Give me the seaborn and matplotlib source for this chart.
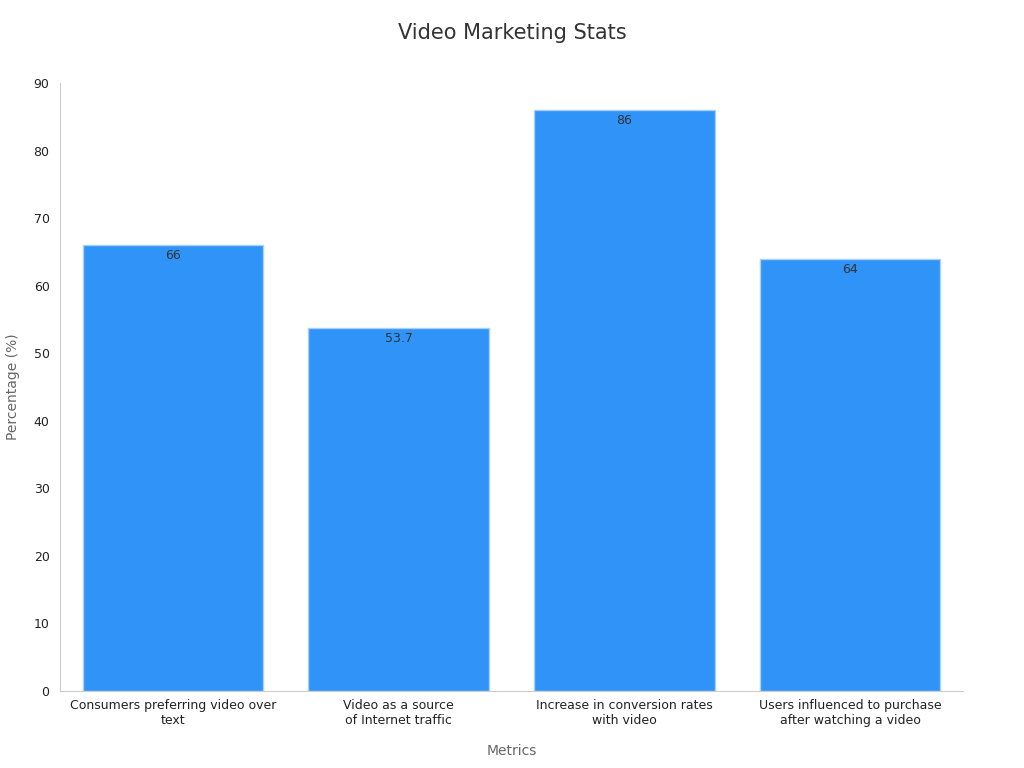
import matplotlib
matplotlib.use("Agg")
import matplotlib.pyplot as plt
import seaborn as sns
import pandas as pd

categories = ["Consumers preferring video over\ntext", "Video as a source\nof Internet traffic",
              "Increase in conversion rates\nwith video", "Users influenced to purchase\nafter watching a video"]
values = [66, 53.7, 86, 64]
labels = ["66", "53.7", "86", "64"]

sns.set_style("white")
plt.rcParams['font.family'] = ['DejaVu Sans']
fig = plt.figure(figsize=(10.24, 7.68), dpi=100)
ax = fig.add_axes([0.0586, 0.1003, 0.8818, 0.7917])
df = pd.DataFrame({"Metrics": categories, "Percentage": values})
sns.barplot(data=df, x="Metrics", y="Percentage", color="#2f93f7", saturation=1,
            width=0.8, edgecolor="#a8cff5", linewidth=1, ax=ax)
ax.set_xlim(-0.5, 3.5)
ax.set_ylim(0, 90)
ax.set_yticks(range(0, 91, 10))
for p, t in zip(ax.patches, labels):
    ax.text(p.get_x() + p.get_width() / 2, p.get_height() - 0.6, t, ha="center", va="top",
            fontsize=9, color="#333333")
for s in ["top", "right"]:
    ax.spines[s].set_visible(False)
for s in ["left", "bottom"]:
    ax.spines[s].set_color("#cccccc")
ax.tick_params(axis="both", labelsize=9, colors="#222222", length=4)
ax.tick_params(axis="x", length=0, pad=6)
ax.tick_params(axis="y", color="#888888")
ax.set_xlabel("Metrics", fontsize=10, color="#666666", labelpad=12)
ax.set_ylabel("Percentage (%)", fontsize=10, color="#666666", labelpad=10)
fig.suptitle("Video Marketing Stats", fontsize=15, color="#333333", y=0.97)
fig.savefig("out.png", dpi=100)
